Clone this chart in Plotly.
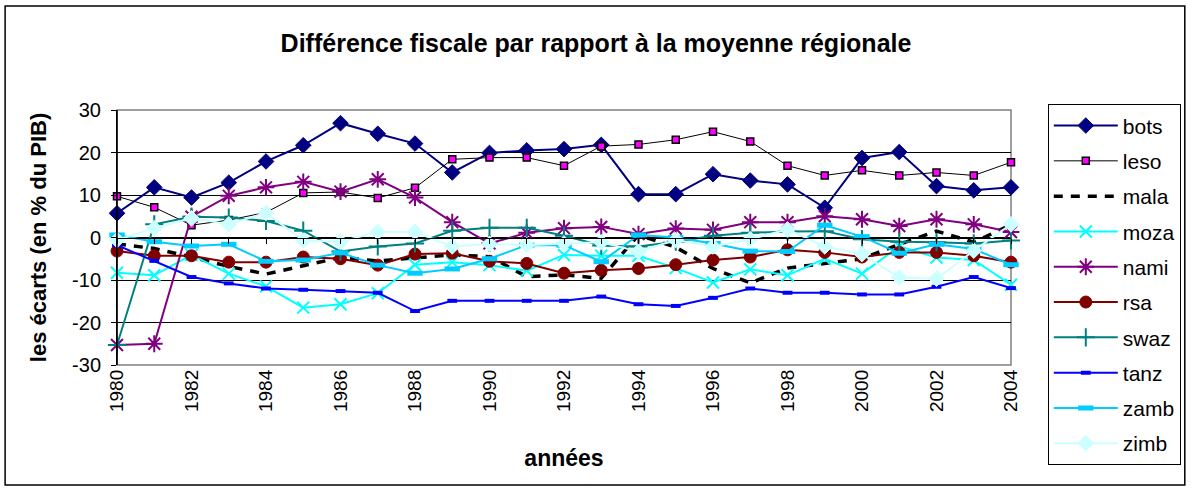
import plotly.graph_objects as go

years = list(range(1980, 2005))

bots = [5.7, 11.8, 9.4, 12.9, 17.9, 21.7, 26.9, 24.4, 22.1, 15.3, 19.9, 20.5, 20.8, 21.8,
        10.2, 10.2, 14.9, 13.4, 12.5, 7.0, 18.7, 20.1, 12.1, 11.1, 11.8]
leso = [9.7, 7.1, 2.9, 4.1, 5.9, 10.5, 10.7, 9.3, 11.7, 18.4, 18.8, 18.8, 16.9, 21.5,
        21.9, 23.0, 24.9, 22.6, 16.9, 14.6, 15.8, 14.6, 15.3, 14.6, 17.7]
mala = [-1.5, -2.6, -4.6, -6.8, -8.6, -6.6, -4.7, -5.5, -4.9, -4.1, -4.5, -9.2, -8.8, -9.6,
        0.6, -2.3, -7.3, -10.7, -7.2, -6.0, -5.0, -1.6, 1.5, -1.1, 3.0]
moza = [-8.3, -8.9, -4.1, -8.5, -11.5, -16.5, -15.7, -13.1, -6.4, -5.8, -6.5, -7.8, -4.1, -4.3,
        -4.3, -7.2, -10.6, -7.5, -8.9, -5.0, -8.5, -2.1, -4.7, -5.3, -11.1]
nami = [-25.3, -25.0, 4.9, 9.8, 11.8, 13.1, 10.8, 13.7, 9.4, 3.6, -1.4, 1.1, 2.2, 2.5,
        0.8, 2.1, 1.8, 3.6, 3.6, 5.0, 4.3, 2.7, 4.3, 3.1, 1.3]
rsa = [-3.2, -4.3, -4.3, -5.8, -5.8, -4.6, -5.0, -6.5, -3.9, -3.7, -5.6, -6.1, -8.4, -7.7,
       -7.3, -6.4, -5.3, -4.6, -2.9, -3.5, -4.6, -3.5, -3.5, -4.3, -5.8]
swaz = [-25.3, 3.1, 4.9, 4.7, 3.9, 1.6, -3.3, -2.1, -1.4, 1.6, 2.3, 2.3, 0.4, -1.9,
        -2.1, -1.0, 0.4, 1.1, 1.4, 1.5, -0.4, -1.0, -1.1, -1.4, -0.7]
tanz = [-1.8, -5.5, -9.3, -10.8, -12.0, -12.3, -12.6, -13.0, -17.3, -14.9, -14.9, -14.9, -14.9, -13.9,
        -15.7, -16.1, -14.2, -12.0, -13.0, -13.0, -13.4, -13.4, -11.6, -9.3, -11.9]
zamb = [0.6, -1.0, -2.0, -1.6, -5.6, -5.3, -3.6, -6.5, -8.4, -7.4, -5.0, -1.8, -1.8, -5.7,
        0.6, 0.0, -1.4, -3.2, -3.3, 2.9, 0.2, -3.7, -1.6, -2.7, -6.4]
zimb = [-0.6, 2.2, 4.5, 3.1, 5.8, -0.7, -1.0, 1.3, 1.3, -2.1, -1.5, -1.8, -1.4, -1.1,
        -3.3, -0.6, -2.1, -0.4, 1.9, -2.1, -3.9, -9.4, -9.7, -3.1, 3.1]

y_ticks = [-30, -20, -10, 0, 10, 20, 30]
y_tick_labels = ["-30", "-20", "-10", "0", "10", "20", "30"]
x_tick_years = list(range(1980, 2005, 2))

FONT = "Liberation Sans, Arial, sans-serif"

# name, values, line colour, line width, dash, marker symbol, marker size, marker fill, marker outline
series = [
    ("bots", bots, "#000080", 2, "solid", "diamond", 12, "#000080", "#000080", 1),
    ("leso", leso, "#000000", 1, "solid", "square", 7, "#FF00FF", "#000000", 1.5),
    ("mala", mala, "#000000", 3.5, "9px,8px", None, 0, None, None, 0),
    ("moza", moza, "#00FFFF", 2, "solid", "x-thin-open", 12, "#00FFFF", "#00FFFF", 2),
    ("nami", nami, "#800080", 2, "solid", "asterisk-open", 14, "#800080", "#800080", 2),
    ("rsa", rsa, "#800000", 2, "solid", "circle", 12, "#800000", "#800000", 1),
    ("swaz", swaz, "#008080", 2, "solid", "cross-thin-open", 13, "#008080", "#008080", 2),
    ("tanz", tanz, "#0000FF", 2, "solid", "line-ew-open", 7, "#0000FF", "#0000FF", 4),
    ("zamb", zamb, "#00CCFF", 2, "solid", "line-ew-open", 11, "#00CCFF", "#00CCFF", 5),
    ("zimb", zimb, "#CCFFFF", 2, "solid", "diamond", 12, "#CCFFFF", "#CCFFFF", 1),
]

fig = go.Figure()
for name, vals, lc, lw, dash, sym, ms, mfill, mline, mlw in series:
    kw = dict(
        x=years, y=vals, name=name, legendgroup=name, cliponaxis=False,
        line=dict(color=lc, width=lw, dash=dash),
    )
    if sym is None:
        kw["mode"] = "lines"
    else:
        kw["mode"] = "lines+markers"
        kw["marker"] = dict(symbol=sym, size=ms, color=mfill,
                            line=dict(color=mline, width=mlw))
    fig.add_trace(go.Scatter(**kw))

fig.update_layout(
    width=1192, height=490,
    margin=dict(l=117, r=180, t=110, b=125),
    paper_bgcolor="white", plot_bgcolor="white",
    font=dict(family=FONT, size=19, color="black"),
    title=dict(text="<b>Différence fiscale par rapport à la moyenne régionale</b>",
               x=0.5, xref="container", xanchor="center",
               y=1 - 43 / 490, yref="container", yanchor="middle",
               font=dict(family=FONT, size=25, color="black")),
    xaxis=dict(range=[1980, 2004], tickmode="array", tickvals=x_tick_years,
               ticktext=[str(v) for v in x_tick_years], tickangle=-90,
               showgrid=False, zeroline=False, showline=False, ticks="",
               tickfont=dict(size=19),
               title=dict(text="<b>années</b>", font=dict(size=23), standoff=38)),
    xaxis2=dict(range=[1980, 2004], overlaying="x", anchor="free", position=0.5,
                side="bottom", showline=True, linecolor="black", linewidth=1,
                ticks="outside", ticklen=5, tickcolor="black", dtick=1, tick0=1980,
                showticklabels=False, showgrid=False, zeroline=False),
    yaxis=dict(range=[-30, 30], tickmode="array", tickvals=y_ticks, ticktext=y_tick_labels,
               showgrid=True, gridcolor="black", gridwidth=1, zeroline=False,
               showline=True, linecolor="black", linewidth=1,
               ticks="outside", ticklen=5, tickcolor="black",
               tickfont=dict(size=20), ticklabelstandoff=6,
               title=dict(text="<b>les écarts (en % du PIB)</b>", font=dict(size=22), standoff=19)),
    legend=dict(x=1.040, y=1.022, xanchor="left", yanchor="top",
                bordercolor="black", borderwidth=1, bgcolor="white",
                font=dict(family=FONT, size=21), itemwidth=64,
                tracegroupgap=5, traceorder="grouped", maxheight=440),
    showlegend=True,
)

# grey frame of the plotting area and outer chart border
fig.add_shape(type="rect", xref="paper", yref="paper", x0=0, x1=1, y0=0, y1=1,
              line=dict(color="#808080", width=1.5), layer="below")
fig.add_shape(type="line", xref="paper", yref="paper", x0=0, x1=0, y0=0, y1=1,
              line=dict(color="black", width=1.5), layer="above")
fig.add_shape(type="rect", xref="paper", yref="paper",
              x0=(5 - 117) / 895, x1=(1186 - 117) / 895,
              y0=(365 - 485) / 255, y1=(365 - 6) / 255,
              line=dict(color="black", width=1.5))

# invisible trace to activate the tick axis along the zero line
fig.add_trace(go.Scatter(x=[1980], y=[0], xaxis="x2", mode="markers",
                         marker=dict(opacity=0), showlegend=False, hoverinfo="skip"))

fig.write_html("out.html")
